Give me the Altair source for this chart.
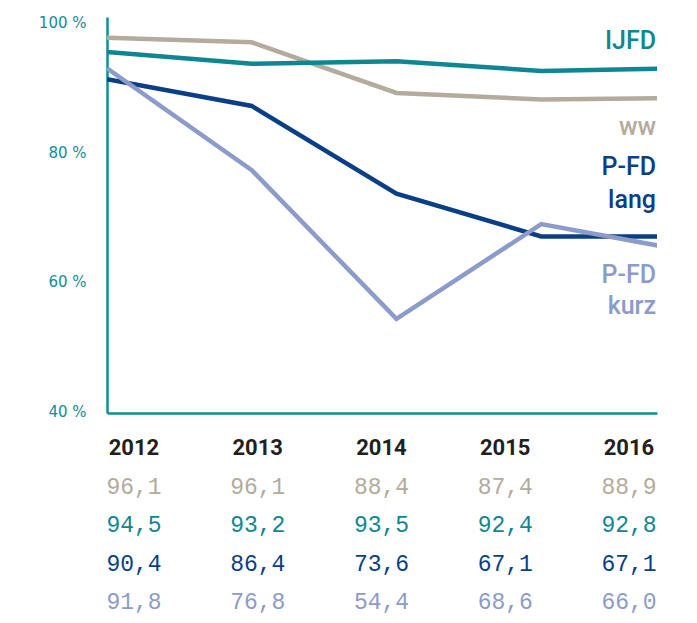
import altair as alt
import pandas as pd

# ---------------- data ----------------
years = [2012, 2013, 2014, 2015, 2016]
series = ["ww", "IJFD", "P-FD lang", "P-FD kurz"]

# values as drawn by the lines
line_ww = [97.6, 96.9, 89.1, 88.1, 88.35]
line_ijfd = [95.4, 93.6, 94.0, 92.5, 92.9]
line_lang = [91.2, 87.1, 73.6, 67.0, 67.0]
line_kurz = [92.9, 77.2, 54.3, 68.9, 64.8]

# values printed in the table below the plot
tab_ww = [96.1, 96.1, 88.4, 87.4, 88.9]
tab_ijfd = [94.5, 93.2, 93.5, 92.4, 92.8]
tab_lang = [90.4, 86.4, 73.6, 67.1, 67.1]
tab_kurz = [91.8, 76.8, 54.4, 68.6, 66.0]

y_ticks = [40, 60, 80, 100]
label_texts = {"ww": "ww", "IJFD": "IJFD", "P-FD lang": ["P-FD", "lang"], "P-FD kurz": ["P-FD", "kurz"]}

# ---------------- styles ----------------
colors = ["#B3AB9D", "#0E8793", "#0A3F86", "#8C9BC8"]
axis_teal = "#148C98"
label_dy = {"IJFD": -27.5, "ww": 29, "P-FD lang": -69.5, "P-FD kurz": 24.5}
label_line_height = {"IJFD": 33, "ww": 33, "P-FD lang": 33, "P-FD kurz": 31}

line_vals = {"ww": line_ww, "IJFD": line_ijfd, "P-FD lang": line_lang, "P-FD kurz": line_kurz}
tab_vals = {"ww": tab_ww, "IJFD": tab_ijfd, "P-FD lang": tab_lang, "P-FD kurz": tab_kurz}

df_lines = pd.DataFrame(
    [{"series": s, "year": y, "value": v} for s in series for y, v in zip(years, line_vals[s])]
)
df_tab = pd.DataFrame(
    [{"series": s, "year": y, "txt": f"{v:.1f}".replace(".", ",")} for s in series for y, v in zip(years, tab_vals[s])]
)
df_years = pd.DataFrame({"year": years, "row": ["head"] * len(years)})

color_scale = alt.Scale(domain=series, range=colors)
y_scale = alt.Scale(domain=[39.8, 100.8], nice=False, zero=False)
x_scale = alt.Scale(domain=[2012, 2015.8], nice=False, zero=False)
tab_x_scale = alt.Scale(type="point", domain=years, range=[27, 522], padding=0)
tab_y_scale = alt.Scale(type="point", domain=["head"] + series, range=[431, 585], padding=0)

lines = alt.Chart(df_lines).mark_line(strokeWidth=4.5, clip=True).encode(
    x=alt.X("year:Q", scale=x_scale,
            axis=alt.Axis(labels=False, ticks=False, tickSize=0, grid=False, title=None,
                          domainColor=axis_teal, domainWidth=2.5)),
    y=alt.Y("value:Q", scale=y_scale,
            axis=alt.Axis(values=y_ticks, labelExpr="datum.value + ' %'", labelColor=axis_teal,
                          labelFont="DejaVu Sans", labelFontSize=15,
                          labelPadding=21, ticks=False, tickSize=0, grid=False, title=None,
                          domainColor=axis_teal, domainWidth=2.5)),
    color=alt.Color("series:N", scale=color_scale, legend=None),
)

label_layers = []
for s, c in zip(series, colors):
    label_layers.append(
        alt.Chart(df_lines)
        .transform_filter((alt.datum.series == s) & (alt.datum.year == 2016))
        .mark_text(align="right", baseline="middle", dy=label_dy[s], font="Roboto",
                   fontSize=25, fontWeight=500, lineHeight=label_line_height[s], color=c)
        .encode(x=alt.value(549), y=alt.Y("value:Q", scale=y_scale, axis=None),
                text=alt.value(label_texts[s]))
    )

year_row = alt.Chart(df_years).mark_text(
    font="Roboto", fontWeight="bold", fontSize=22, color="#231F20", baseline="middle"
).encode(
    x=alt.X("year:O", scale=tab_x_scale, axis=None),
    y=alt.Y("row:N", scale=tab_y_scale, axis=None),
    text="year:N",
)

table = alt.Chart(df_tab).mark_text(
    font="Liberation Mono", fontSize=23, baseline="middle"
).encode(
    x=alt.X("year:O", scale=tab_x_scale, axis=None),
    y=alt.Y("series:N", scale=tab_y_scale, axis=None),
    text="txt:N",
    color=alt.Color("series:N", scale=color_scale, legend=None),
)

chart = (
    alt.layer(lines, *label_layers, year_row, table)
    .resolve_scale(x="independent", y="independent")
    .properties(
        width=550,
        height=396,
        autosize=alt.AutoSizeParams(type="none"),
        padding={"left": 99, "top": 9, "right": 24, "bottom": 202},
    )
    .configure_view(stroke=None)
)

chart.save("out.html", embed_options={"renderer": "svg", "actions": False})
